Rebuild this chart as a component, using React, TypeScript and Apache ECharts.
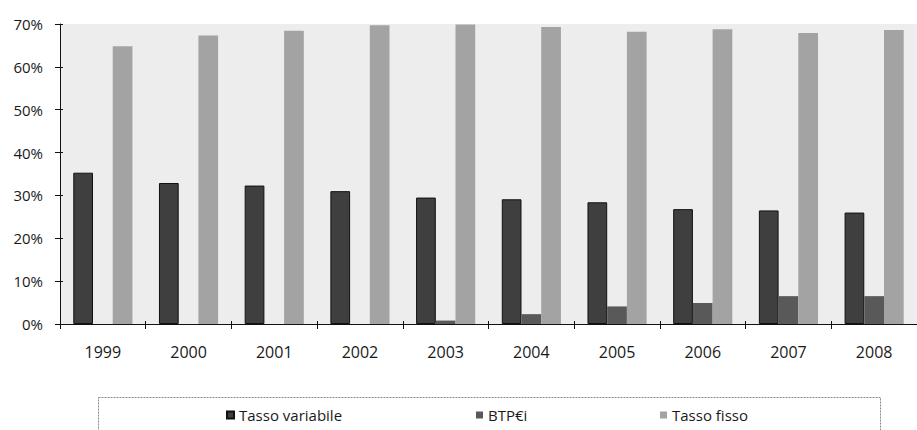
import React, { useEffect, useRef } from "react";
import * as echarts from "echarts";

const categories = ["1999", "2000", "2001", "2002", "2003", "2004", "2005", "2006", "2007", "2008"];
const tassoVariabile = [35.3, 32.9, 32.3, 31.0, 29.5, 29.1, 28.4, 26.8, 26.5, 26.0];
const btpEi = [0, 0, 0, 0, 0.8, 2.3, 4.1, 4.9, 6.5, 6.5];
const tassoFisso = [64.8, 67.3, 68.4, 69.7, 69.9, 69.3, 68.2, 68.8, 67.9, 68.6];
const seriesNames = ["Tasso variabile", "BTP€i", "Tasso fisso"];
const yTicks = [0, 10, 20, 30, 40, 50, 60, 70];

const FONT = "'Open Sans', sans-serif";
const TEXT = "#1a1a1a";

export default function App() {
  const ref = useRef<HTMLDivElement>(null);
  useEffect(() => {
    if (!ref.current) return;
    const chart = echarts.init(ref.current, undefined, { renderer: "svg" });
    const legendBase = {
      padding: 0,
      itemWidth: 7,
      itemHeight: 7,
      icon: "rect",
      selectedMode: false,
      textStyle: { fontFamily: FONT, fontSize: 15, color: TEXT, lineHeight: 18 },
      top: 406,
    };
    chart.setOption({
      animation: false,
      backgroundColor: "#ffffff",
      grid: {
        left: 60,
        top: 24,
        width: 865,
        height: 300,
        show: true,
        backgroundColor: "#ededed",
        borderWidth: 0,
      },
      legend: [
        { ...legendBase, left: 226, data: [seriesNames[0]] },
        { ...legendBase, left: 476, data: [seriesNames[1]] },
        { ...legendBase, left: 660, data: [seriesNames[2]] },
      ],
      graphic: [
        {
          type: "rect",
          shape: { x: 98.5, y: 397.5, width: 782, height: 60 },
          style: { fill: "none", stroke: "#8a8a8a", lineWidth: 1, lineDash: [2, 1] },
          silent: true,
        },
      ],
      xAxis: [
        {
          type: "category",
          data: categories,
          position: "bottom",
          axisLine: { show: true, lineStyle: { color: "#111", width: 1 } },
          axisTick: { show: true, length: 5, lineStyle: { color: "#111" } },
          axisLabel: { fontFamily: FONT, fontSize: 16, color: TEXT, margin: 20 },
          splitLine: { show: false },
        },
        {
          type: "category",
          data: categories,
          position: "bottom",
          axisLine: { show: false },
          axisTick: { show: true, inside: true, length: 3, lineStyle: { color: "#111" } },
          axisLabel: { show: false },
          splitLine: { show: false },
        },
      ],
      yAxis: [
        {
          type: "value",
          min: yTicks[0],
          max: yTicks[yTicks.length - 1],
          interval: 10,
          axisLine: { show: true, lineStyle: { color: "#111", width: 1 } },
          axisTick: { show: true, length: 5, lineStyle: { color: "#111" } },
          axisLabel: {
            fontFamily: FONT,
            fontSize: 15,
            color: TEXT,
            margin: 17,
            formatter: (v: number) => `${v}%`,
          },
          splitLine: { show: false },
        },
        {
          type: "value",
          position: "left",
          min: yTicks[0],
          max: yTicks[yTicks.length - 1],
          interval: 10,
          axisLine: { show: false },
          axisTick: { show: true, inside: true, length: 3, lineStyle: { color: "#111" } },
          axisLabel: { show: false },
          splitLine: { show: false },
        },
      ],
      series: [
        {
          name: seriesNames[0],
          type: "bar",
          data: tassoVariabile,
          barGap: "0%",
          barCategoryGap: "31%",
          itemStyle: { color: "#3f3f3f", borderColor: "#111", borderWidth: 1 },
        },
        {
          name: seriesNames[1],
          type: "bar",
          data: btpEi,
          barGap: "0%",
          barCategoryGap: "31%",
          itemStyle: { color: "#595959" },
        },
        {
          name: seriesNames[2],
          type: "bar",
          data: tassoFisso,
          barGap: "0%",
          barCategoryGap: "31%",
          itemStyle: { color: "#a3a3a3" },
        },
      ],
    });
    return () => chart.dispose();
  }, []);
  return (
    <div
      ref={ref}
      style={{ position: "fixed", left: 0, top: 0, width: 917, height: 430, background: "#fff" }}
    />
  );
}
